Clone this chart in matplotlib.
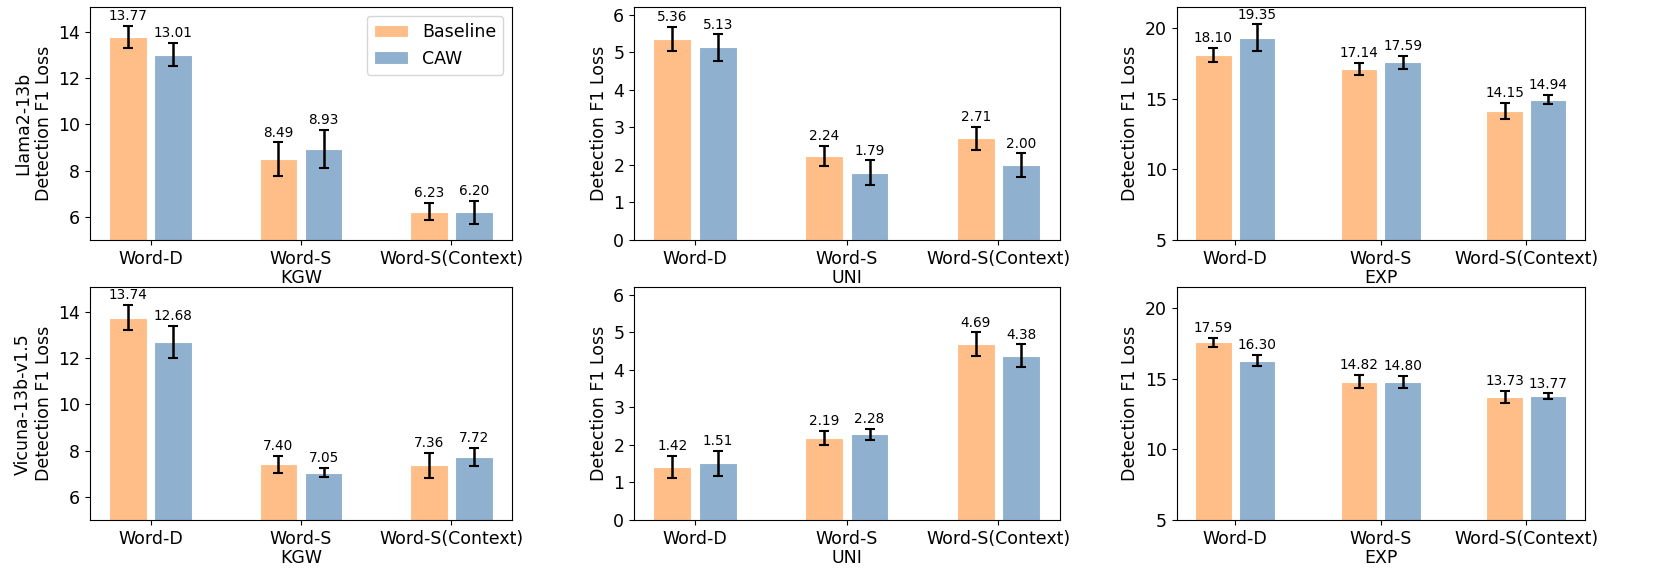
import numpy as np
import matplotlib
matplotlib.use("Agg")
import matplotlib.pyplot as plt
from matplotlib.ticker import MultipleLocator

categories = ["Word-D", "Word-S", "Word-S(Context)"]
methods = ["KGW", "UNI", "EXP"]
models = ["Llama2-13b", "Vicuna-13b-v1.5"]

# baseline / CAW means and error half-widths, [model][method]
baseline = [
    [[13.77, 8.49, 6.23], [5.36, 2.24, 2.71], [18.10, 17.14, 14.15]],
    [[13.74, 7.40, 7.36], [1.42, 2.19, 4.69], [17.59, 14.82, 13.73]],
]
caw = [
    [[13.01, 8.93, 6.20], [5.13, 1.79, 2.00], [19.35, 17.59, 14.94]],
    [[12.68, 7.05, 7.72], [1.51, 2.28, 4.38], [16.30, 14.80, 13.77]],
]
baseline_err = [
    [[0.47, 0.73, 0.37], [0.32, 0.27, 0.30], [0.50, 0.42, 0.57]],
    [[0.55, 0.38, 0.53], [0.29, 0.19, 0.31], [0.33, 0.46, 0.43]],
]
caw_err = [
    [[0.49, 0.83, 0.49], [0.35, 0.33, 0.31], [0.94, 0.47, 0.33]],
    [[0.70, 0.20, 0.39], [0.34, 0.15, 0.30], [0.39, 0.41, 0.21]],
]
ylims = [(5, 15.05), (0, 6.2), (5, 21.5)]
ysteps = [2, 1, 5]

c_base = "#FFBE88"
c_caw = "#8FB0CF"
fs = 12.5

W, H = 1661, 577
fig = plt.figure(figsize=(W / 100, H / 100), dpi=100)

cols_px = [(90, 512), (634, 1059.5), (1176.7, 1585)]
rows_px = [(7.3, 240), (287.3, 520)]

x = np.arange(len(categories))
bw = 0.25
off = 0.15
ekw = dict(elinewidth=1.8, capthick=1.5, ecolor="black")

for r in range(2):
    for c in range(3):
        l, rr = cols_px[c]
        t, b = rows_px[r]
        ax = fig.add_axes([l / W, 1 - b / H, (rr - l) / W, (b - t) / H])
        ax.bar(x - off, baseline[r][c], bw, yerr=baseline_err[r][c], color=c_base,
               edgecolor="white", linewidth=0.8, capsize=3.4, error_kw=ekw, label="Baseline")
        ax.bar(x + off, caw[r][c], bw, yerr=caw_err[r][c], color=c_caw,
               edgecolor="white", linewidth=0.8, capsize=3.4, error_kw=ekw, label="CAW")
        for xs, vals, errs in [(x - off, baseline[r][c], baseline_err[r][c]),
                               (x + off, caw[r][c], caw_err[r][c])]:
            for xi, v, e in zip(xs, vals, errs):
                ax.annotate(f"{v:.2f}", (xi, v + e), xytext=(0, 2), textcoords="offset points",
                            ha="center", va="bottom", fontsize=9.8)
        ax.set_ylim(*ylims[c])
        ax.yaxis.set_major_locator(MultipleLocator(ysteps[c]))
        ax.set_xticks(x)
        ax.set_xticklabels(categories, fontsize=fs)
        ax.tick_params(axis="y", labelsize=fs)
        ax.set_xlabel(methods[c], fontsize=fs, labelpad=1)
        if c == 0:
            ax.set_ylabel(models[r] + "\nDetection F1 Loss", fontsize=fs)
        else:
            ax.set_ylabel("Detection F1 Loss", fontsize=fs)
        if r == 0 and c == 0:
            ax.legend(loc="upper right", fontsize=fs)

fig.savefig("out.png", dpi=100)
